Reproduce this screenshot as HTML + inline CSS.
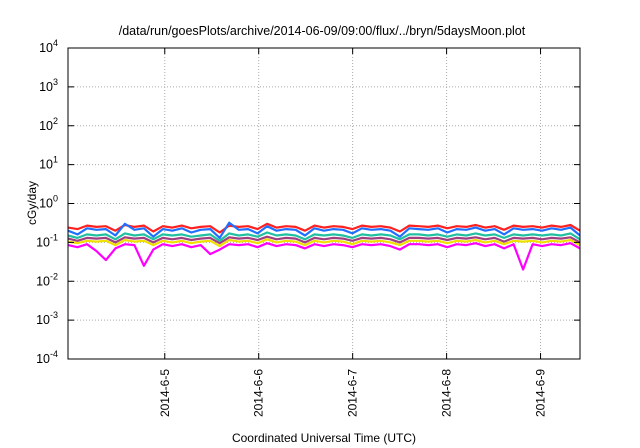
<!DOCTYPE html>
<html><head><meta charset="utf-8"><style>
body{margin:0;background:#fff;}
svg{display:block;font-family:"Liberation Sans",sans-serif;}
</style></head><body>
<svg id="c" width="640" height="448">
<text x="322" y="35" text-anchor="middle" font-size="12.5">/data/run/goesPlots/archive/2014-06-09/09:00/flux/../bryn/5daysMoon.plot</text>
<text transform="translate(36,203) rotate(-90)" text-anchor="middle" font-size="12">cGy/day</text>
<text x="324" y="442" text-anchor="middle" font-size="12">Coordinated Universal Time (UTC)</text>
<g id="grid"></g><g id="series"></g>
<rect x="68" y="48" width="512" height="311" fill="none" stroke="#000" stroke-width="1"/>
<g id="axes"></g>
</svg>
<script>
const xTicks=[5,6,7,8,9];
const xTickLabels=["2014-6-5","2014-6-6","2014-6-7","2014-6-8","2014-6-9"];
const yExps=[-4,-3,-2,-1,0,1,2,3,4];
const tStart=3.97, tEnd=9.42;
const red=[0.24,0.22,0.27,0.25,0.26,0.2,0.28,0.25,0.27,0.19,0.26,0.24,0.27,0.23,0.25,0.26,0.18,0.27,0.25,0.26,0.22,0.3,0.24,0.26,0.25,0.2,0.27,0.24,0.26,0.25,0.22,0.27,0.25,0.26,0.24,0.19,0.27,0.26,0.25,0.27,0.23,0.26,0.25,0.28,0.24,0.26,0.21,0.27,0.25,0.26,0.24,0.27,0.25,0.28,0.2];
const blue=[0.2,0.16,0.23,0.21,0.22,0.15,0.3,0.21,0.23,0.14,0.22,0.2,0.23,0.18,0.21,0.22,0.13,0.32,0.21,0.22,0.17,0.26,0.2,0.22,0.21,0.15,0.23,0.2,0.22,0.21,0.17,0.23,0.21,0.22,0.2,0.14,0.23,0.22,0.21,0.23,0.18,0.22,0.21,0.24,0.2,0.22,0.16,0.23,0.21,0.22,0.2,0.23,0.21,0.24,0.15];
const cyan=[0.15,0.13,0.16,0.15,0.16,0.12,0.17,0.15,0.16,0.12,0.16,0.15,0.16,0.14,0.15,0.16,0.11,0.17,0.15,0.16,0.14,0.18,0.15,0.16,0.15,0.12,0.16,0.15,0.16,0.15,0.13,0.16,0.15,0.16,0.15,0.12,0.16,0.16,0.15,0.16,0.14,0.16,0.15,0.17,0.15,0.16,0.13,0.16,0.15,0.16,0.15,0.16,0.15,0.17,0.12];
const purple=[0.125,0.11,0.13,0.125,0.13,0.1,0.135,0.125,0.13,0.1,0.13,0.12,0.13,0.115,0.125,0.13,0.095,0.135,0.125,0.13,0.115,0.14,0.12,0.13,0.125,0.1,0.13,0.12,0.13,0.125,0.11,0.13,0.125,0.13,0.12,0.1,0.13,0.13,0.125,0.13,0.115,0.13,0.125,0.135,0.12,0.13,0.105,0.13,0.125,0.13,0.12,0.13,0.125,0.135,0.1];
const yellow=[0.105,0.095,0.11,0.105,0.11,0.085,0.115,0.105,0.11,0.085,0.11,0.1,0.11,0.095,0.105,0.11,0.08,0.115,0.105,0.11,0.095,0.12,0.1,0.11,0.105,0.085,0.11,0.1,0.11,0.105,0.09,0.11,0.105,0.11,0.1,0.085,0.11,0.11,0.105,0.11,0.095,0.11,0.105,0.115,0.1,0.11,0.09,0.11,0.105,0.11,0.1,0.11,0.105,0.115,0.085];
const magenta=[0.085,0.075,0.09,0.06,0.035,0.07,0.09,0.085,0.025,0.065,0.09,0.08,0.09,0.075,0.085,0.05,0.065,0.09,0.085,0.09,0.075,0.095,0.08,0.09,0.085,0.07,0.09,0.08,0.09,0.085,0.075,0.09,0.085,0.09,0.08,0.065,0.09,0.09,0.085,0.09,0.075,0.09,0.085,0.095,0.08,0.09,0.07,0.09,0.02,0.09,0.08,0.09,0.085,0.095,0.07];
const seriesList=[[magenta,"#ff00ff","magenta"],[yellow,"#f0e000","yellow"],[purple,"#a04080","purple"],[cyan,"#20c0a0","cyan"],[red,"#ff2020","red"],[blue,"#2070ff","blue"]];
const L=68,R=580,T=48,B=359;
const xs=t=>L+(t-tStart)/(tEnd-tStart)*(R-L);
const ys=v=>T+(4-Math.log10(v))/8*(B-T);
const NS="http://www.w3.org/2000/svg";
const grid=document.getElementById('grid'),axes=document.getElementById('axes'),sg=document.getElementById('series');
function mk(tag,attrs,parent){const e=document.createElementNS(NS,tag);for(const k in attrs)e.setAttribute(k,attrs[k]);parent.appendChild(e);return e;}
yExps.forEach(e=>{const y=ys(Math.pow(10,e));
 if(e>-4&&e<4){const g=mk('line',{x1:L,x2:R,y1:y,y2:y,stroke:'#aaa','stroke-dasharray':'1,2'},grid);
 
 }
 mk('line',{x1:L,x2:L+6,y1:y,y2:y,stroke:'#000'},axes);mk('line',{x1:R,x2:R-6,y1:y,y2:y,stroke:'#000'},axes);
 const t=mk('text',{x:L-10,y:y+4,'text-anchor':'end','font-size':'12.5'},axes);
 
 
 t.innerHTML='10<tspan dy="-6" font-size="9">'+e+'</tspan>';});
xTicks.forEach((d,i)=>{const x=xs(d);
 const g=mk('line',{x1:x,x2:x,y1:T,y2:B,stroke:'#aaa','stroke-dasharray':'1,2'},grid);
 
 
 mk('line',{x1:x,x2:x,y1:B,y2:B-6,stroke:'#000'},axes);mk('line',{x1:x,x2:x,y1:T,y2:T+6,stroke:'#000'},axes);
 const t=mk('text',{transform:`translate(${x+4},369) rotate(-90)`,'text-anchor':'end','font-size':'12'},axes);
 
 
 t.textContent=xTickLabels[i];});
seriesList.forEach(([arr,col,name])=>{
 const n=arr.length;const pts=arr.map((v,i)=>xs(tStart+(tEnd-tStart)*i/(n-1)).toFixed(1)+','+ys(v).toFixed(1)).join(' ');
 const p=mk('polyline',{points:pts,fill:'none',stroke:col,'stroke-width':'2.2','stroke-linejoin':'round'},sg);
 
 });
</script>
</body></html>
